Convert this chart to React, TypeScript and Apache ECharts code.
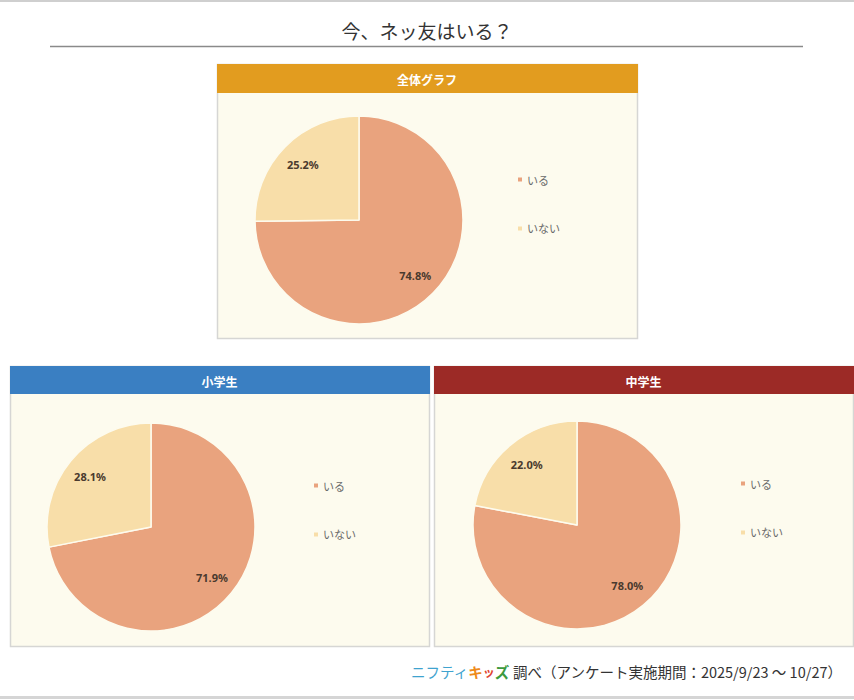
import React, { useEffect, useRef } from "react";
import * as echarts from "echarts";

const categories = ["いる", "いない"];
const allValues = [74.8, 25.2];
const elementaryValues = [71.9, 28.1];
const juniorValues = [78.0, 22.0];
const panelTitles = ["全体グラフ", "小学生", "中学生"];
const chartTitle = "今、ネッ友はいる？";

const COLORS = ["#E9A37E", "#F8DEA9"];
const FONT = "'Noto Sans CJK JP', 'Noto Sans', sans-serif";

type PieDef = { values: number[]; cx: number; cy: number; r: number; lx: number; ly: number };

export default function App() {
  const ref = useRef<HTMLDivElement>(null);
  useEffect(() => {
    if (!ref.current) return;
    const chart = echarts.init(ref.current, null, { renderer: "svg" });
    const pies: PieDef[] = [
      { values: allValues, cx: 359, cy: 220, r: 104, lx: 516, ly: 181 },
      { values: elementaryValues, cx: 151, cy: 527, r: 104, lx: 312, ly: 487 },
      { values: juniorValues, cx: 577, cy: 525, r: 104, lx: 739, ly: 485 },
    ];
    const panels = [
      { x: 217, y: 64, w: 420, h: 274, hh: 29, color: "#E29C1F" },
      { x: 10, y: 366, w: 419, h: 280, hh: 28, color: "#3A7FC2" },
      { x: 434, y: 366, w: 419, h: 280, hh: 28, color: "#9C2A26" },
    ];
    const graphic: any[] = [
      { type: "rect", shape: { x: 0, y: 0, width: 854, height: 2 }, style: { fill: "#CFCFCF" }, z: 0 },
      { type: "rect", shape: { x: 0, y: 696, width: 854, height: 3 }, style: { fill: "#D5D5D5" }, z: 0 },
      {
        type: "text",
        x: 427,
        y: 30,
        style: { text: chartTitle, fill: "#333", font: `19px ${FONT}`, align: "center", verticalAlign: "middle" },
      },
      { type: "line", shape: { x1: 50, y1: 46.5, x2: 803, y2: 46.5 }, style: { stroke: "#8A8A8A", lineWidth: 1.5 } },
    ];
    panels.forEach((p, i) => {
      graphic.push({
        type: "rect",
        shape: { x: p.x + 0.5, y: p.y + 0.5, width: p.w, height: p.h },
        style: { fill: "#FDFBEE", stroke: "#D6D6D4", lineWidth: 1.5 },
        z: 0,
      });
      graphic.push({
        type: "rect",
        shape: { x: p.x, y: p.y, width: p.w + 1, height: p.hh },
        style: { fill: p.color },
        z: 1,
      });
      graphic.push({
        type: "text",
        x: p.x + p.w / 2,
        y: p.y + p.hh / 2 + 1,
        style: {
          text: panelTitles[i],
          fill: "#fff",
          font: `bold 12px ${FONT}`,
          align: "center",
          verticalAlign: "middle",
        },
        z: 2,
      });
    });
    graphic.push({
      type: "text",
      x: 842,
      y: 671,
      style: {
        text: "{a|ニフティ}{b|キ}{c|ッ}{d|ズ}{e| 調べ（アンケート実施期間：2025/9/23 ～ 10/27）}",
        align: "right",
        verticalAlign: "middle",
        rich: {
          a: { fill: "#3FA3CF", font: `14.5px ${FONT}` },
          b: { fill: "#EE8A1A", font: `bold 14.5px ${FONT}` },
          c: { fill: "#E0432E", font: `bold 12px ${FONT}` },
          d: { fill: "#3D9A3E", font: `bold 14.5px ${FONT}` },
          e: { fill: "#333", font: `14.5px ${FONT}` },
        },
      },
    });

    const series: any[] = [];
    const legends: any[] = [];
    pies.forEach((p) => {
      const data = categories.map((name, k) => ({ name, value: p.values[k] }));
      series.push({
        type: "pie",
        center: [p.cx, p.cy],
        radius: [0, p.r],
        startAngle: 90,
        clockwise: true,
        data,
        itemStyle: { borderColor: "#FDFBEE", borderWidth: 1.5 },
        label: { show: false },
        labelLine: { show: false },
        emphasis: { disabled: true },
        silent: true,
        z: 3,
      });
      series.push({
        type: "pie",
        center: [p.cx, p.cy],
        radius: [p.r * 0.46, p.r],
        startAngle: 90,
        clockwise: true,
        data,
        itemStyle: { color: "rgba(0,0,0,0)" },
        label: {
          show: true,
          position: "inside",
          formatter: (v: any) => v.value.toFixed(1) + "%",
          color: "#4A3A2E",
          fontFamily: "'Noto Sans', sans-serif",
          fontWeight: "bold",
          fontSize: 11,
        },
        labelLine: { show: false },
        legendHoverLink: false,
        emphasis: { disabled: true },
        silent: true,
        z: 4,
      });
      legends.push({
        data: categories,
        orient: "vertical",
        left: p.lx,
        top: p.ly - 7,
        padding: 0,
        itemWidth: 6,
        itemHeight: 6,
        itemGap: 38,
        icon: "rect",
        selectedMode: false,
        textStyle: { color: "#6A6A6A", fontSize: 11, fontFamily: FONT, padding: [0, 0, 0, -1] },
      });
    });

    chart.setOption({
      animation: false,
      backgroundColor: "#fff",
      color: COLORS,
      graphic,
      legend: legends,
      series,
    });
    return () => chart.dispose();
  }, []);
  return (
    <div
      ref={ref}
      style={{ position: "fixed", left: 0, top: 0, width: 854, height: 700 }}
    />
  );
}
